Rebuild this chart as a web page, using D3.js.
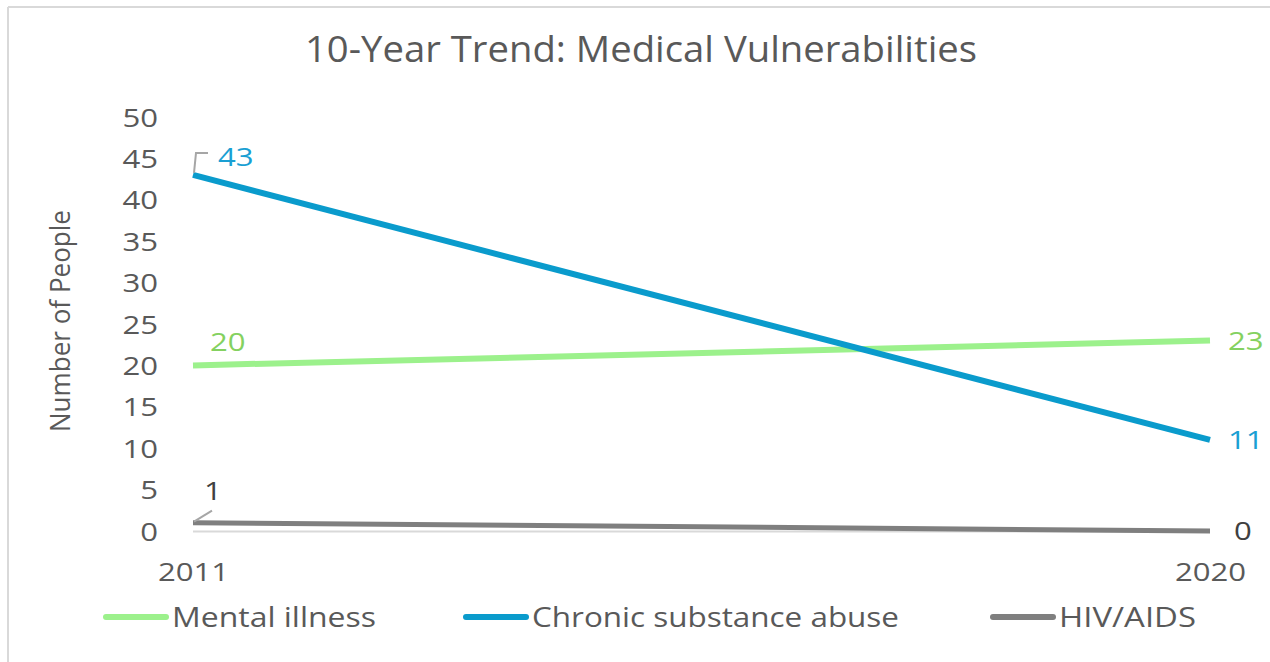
<!DOCTYPE html>
<html>
<head>
<meta charset="utf-8">
<script src="https://cdn.jsdelivr.net/npm/d3@7"></script>
<style>
  html, body { margin: 0; padding: 0; background: #ffffff; }
  svg { display: block; }
</style>
</head>
<body>
<svg id="chart" width="1270" height="662"></svg>
<script>
// Chart data
const years = ["2011", "2020"];
const seriesNames = ["Mental illness", "Chronic substance abuse", "HIV/AIDS"];
const mentalIllness = [20, 23];
const substanceAbuse = [43, 11];
const hivAids = [1, 0];
const yTicks = [0, 5, 10, 15, 20, 25, 30, 35, 40, 45, 50];

const lineColors = ["#9cf18c", "#0a9bcc", "#7f7f7f"];
const labelColors = ["#84d160", "#1a9fd3", "#404040"];
const seriesValues = [mentalIllness, substanceAbuse, hivAids];

const svg = d3.select("#chart");
const W = 1270, H = 662;
const narrow = "'Liberation Sans Narrow', 'Open Sans', sans-serif";
const wide = "'Open Sans', 'DejaVu Sans', sans-serif";
const digitW = 17.8;

// Widen numeric labels to the chart's broad digit style
const stretchDigits = (sel) => sel.each(function () {
  const t = d3.select(this);
  t.attr("textLength", t.text().length * digitW).attr("lengthAdjust", "spacingAndGlyphs");
});

// Frame (left and top edges visible)
svg.append("line").attr("x1", 8).attr("x2", 8).attr("y1", 7).attr("y2", H)
  .attr("stroke", "#d9d9d9").attr("stroke-width", 2);
svg.append("line").attr("x1", 8).attr("x2", W).attr("y1", 7).attr("y2", 7)
  .attr("stroke", "#d9d9d9").attr("stroke-width", 2);

// Title
svg.append("text")
  .attr("x", 641).attr("y", 62)
  .attr("text-anchor", "middle")
  .attr("font-family", narrow).attr("font-size", 36)
  .attr("fill", "#595959")
  .attr("textLength", 672).attr("lengthAdjust", "spacingAndGlyphs")
  .text("10-Year Trend: Medical Vulnerabilities");

// Scales
const x = d3.scalePoint().domain(years).range([193, 1210]);
const y = d3.scaleLinear().domain([0, 50]).range([531, 117]);

// Baseline
svg.append("line")
  .attr("x1", 193).attr("x2", 1210)
  .attr("y1", y(0) + 0.5).attr("y2", y(0) + 0.5)
  .attr("stroke", "#d9d9d9").attr("stroke-width", 2);

// Y axis tick labels
const yAxis = d3.axisLeft(y).tickValues(yTicks).tickSize(0).tickPadding(0);
const yG = svg.append("g").attr("transform", "translate(158,0)").call(yAxis);
yG.select(".domain").remove();
yG.selectAll("text")
  .attr("font-family", wide).attr("font-size", 25)
  .attr("fill", "#595959").attr("dy", "0.36em")
  .call(stretchDigits);

// X axis labels
const xAxis = d3.axisBottom(x).tickSize(0).tickPadding(0);
const xG = svg.append("g").attr("transform", "translate(0,572)").call(xAxis);
xG.select(".domain").remove();
xG.selectAll("text")
  .attr("font-family", wide).attr("font-size", 25)
  .attr("fill", "#595959").attr("dy", "0.36em")
  .call(stretchDigits);

// Y axis title
svg.append("text")
  .attr("transform", "translate(70,321) rotate(-90)")
  .attr("text-anchor", "middle")
  .attr("font-family", narrow).attr("font-size", 27)
  .attr("fill", "#595959")
  .attr("textLength", 222).attr("lengthAdjust", "spacingAndGlyphs")
  .text("Number of People");

// Lines
const line = d3.line().x((d, i) => x(years[i])).y(d => y(d));
const widths = [6, 6, 5];
seriesValues.forEach((vals, s) => {
  svg.append("path")
    .datum(vals)
    .attr("d", line)
    .attr("fill", "none")
    .attr("stroke", lineColors[s])
    .attr("stroke-width", widths[s]);
});

// Leader lines for first-year labels
const x0 = x(years[0]);
svg.append("path")
  .attr("d", `M${x0 + 1},${y(substanceAbuse[0]) - 2} L${x0 + 3},${y(substanceAbuse[0]) - 22} L${x0 + 15},${y(substanceAbuse[0]) - 22}`)
  .attr("fill", "none").attr("stroke", "#a6a6a6").attr("stroke-width", 2);
svg.append("path")
  .attr("d", `M${x0 + 1},${y(hivAids[0]) - 1} L${x0 + 19},${y(hivAids[0]) - 12}`)
  .attr("fill", "none").attr("stroke", "#a6a6a6").attr("stroke-width", 2);

// Data labels
const labelFont = (sel) => sel.attr("font-family", wide).attr("font-size", 25).attr("dy", "0.36em");
const x1 = x(years[1]);
const dataLabels = [
  { v: mentalIllness[0], c: labelColors[0], x: x0 + 17, y: y(mentalIllness[0]) - 23 },
  { v: substanceAbuse[0], c: labelColors[1], x: x0 + 25, y: y(substanceAbuse[0]) - 18 },
  { v: hivAids[0], c: labelColors[2], x: x0 + 11, y: y(hivAids[0]) - 32 },
  { v: mentalIllness[1], c: labelColors[0], x: x1 + 18, y: y(mentalIllness[1]) },
  { v: substanceAbuse[1], c: labelColors[1], x: x1 + 18, y: y(substanceAbuse[1]) },
  { v: hivAids[1], c: labelColors[2], x: x1 + 24, y: y(hivAids[1]) }
];
svg.selectAll("text.dlabel").data(dataLabels).enter().append("text")
  .attr("class", "dlabel")
  .call(labelFont)
  .attr("fill", d => d.c)
  .attr("x", d => d.x).attr("y", d => d.y)
  .text(d => d.v)
  .call(stretchDigits);

// Legend
const legendX = [103, 463, 990];
const legendW = [204, 367, 137];
const lg = svg.append("g");
seriesNames.forEach((name, i) => {
  lg.append("line")
    .attr("x1", legendX[i] + 3).attr("x2", legendX[i] + 63)
    .attr("y1", 617).attr("y2", 617)
    .attr("stroke", lineColors[i]).attr("stroke-width", 6)
    .attr("stroke-linecap", "round");
  lg.append("text")
    .attr("x", legendX[i] + 69).attr("y", 617).attr("dy", "0.36em")
    .attr("font-family", narrow).attr("font-size", 27)
    .attr("fill", "#595959")
    .attr("textLength", legendW[i]).attr("lengthAdjust", "spacingAndGlyphs")
    .text(name);
});
</script>
</body>
</html>
